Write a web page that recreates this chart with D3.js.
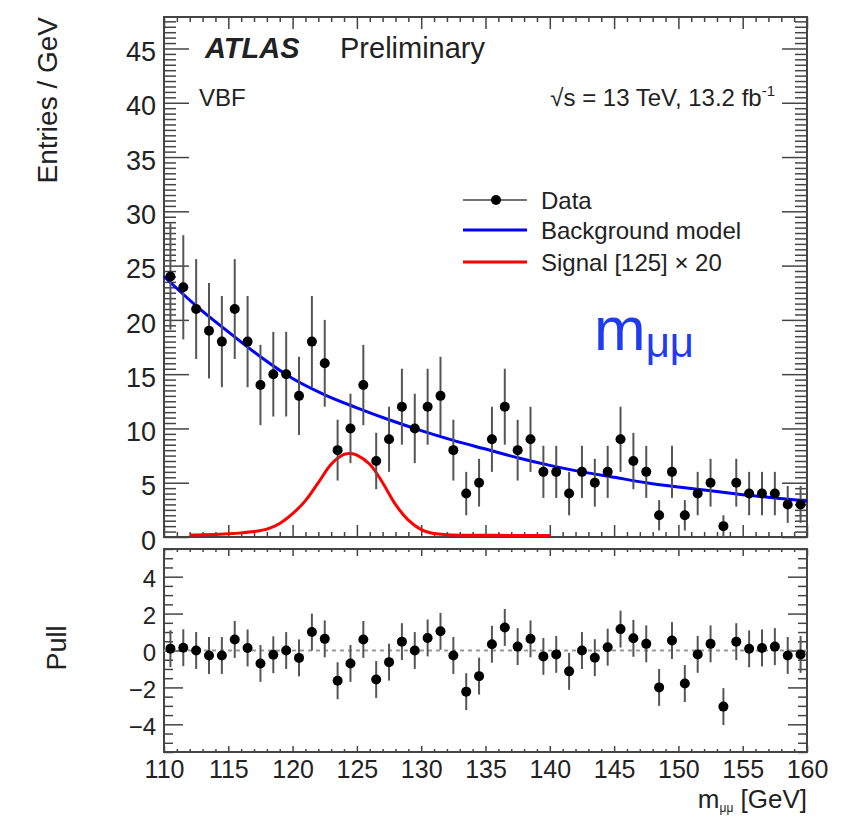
<!DOCTYPE html>
<html>
<head>
<meta charset="utf-8">
<script src="https://cdn.jsdelivr.net/npm/d3@7"></script>
<style>
body { margin: 0; background: #fff; }
text { font-family: "Liberation Sans", Arial, sans-serif; fill: #222; }
</style>
</head>
<body>
<div id="chart"></div>
<script>
// bin centres (1 GeV bins) and observed entries
const binCenters = [110.5, 111.5, 112.5, 113.5, 114.5, 115.5, 116.5, 117.5, 118.5, 119.5,
  120.5, 121.5, 122.5, 123.5, 124.5, 125.5, 126.5, 127.5, 128.5, 129.5,
  130.5, 131.5, 132.5, 133.5, 134.5, 135.5, 136.5, 137.5, 138.5, 139.5,
  140.5, 141.5, 142.5, 143.5, 144.5, 145.5, 146.5, 147.5, 148.5, 149.5,
  150.5, 151.5, 152.5, 153.5, 154.5, 155.5, 156.5, 157.5, 158.5, 159.5];
const counts = [24, 23, 21, 19, 18, 21, 18, 14, 15, 15,
  13, 18, 16, 8, 10, 14, 7, 9, 12, 10,
  12, 13, 8, 4, 5, 9, 12, 8, 9, 6,
  6, 4, 6, 5, 6, 9, 7, 6, 2, 6,
  2, 4, 5, 1, 5, 4, 4, 4, 3, 3];
const countErrors = [4.9, 4.8, 4.6, 4.4, 4.2, 4.6, 4.2, 3.7, 3.9, 3.9,
  3.6, 4.2, 4.0, 2.8, 3.2, 3.7, 2.6, 3.0, 3.5, 3.2,
  3.5, 3.6, 2.8, 2.0, 2.2, 3.0, 3.5, 2.8, 3.0, 2.4,
  2.4, 2.0, 2.4, 2.2, 2.4, 3.0, 2.6, 2.4, 1.4, 2.4,
  1.4, 2.0, 2.2, 1.0, 2.2, 2.0, 2.0, 2.0, 1.7, 1.7];
const pulls = [0.1, 0.15, 0.0, -0.27, -0.27, 0.6, 0.14, -0.7, -0.23, 0.0,
  -0.4, 1.0, 0.63, -1.64, -0.7, 0.6, -1.57, -0.63, 0.48, 0.0,
  0.68, 1.04, -0.27, -2.23, -1.39, 0.34, 1.25, 0.21, 0.63, -0.32,
  -0.21, -1.13, 0.0, -0.39, 0.18, 1.16, 0.66, 0.36, -2.0, 0.54,
  -1.79, -0.21, 0.36, -3.04, 0.48, 0.09, 0.14, 0.21, -0.27, -0.21];
const pullError = 1;

// background model and signal x20 curves
const bkgMass = [110, 112.5, 115, 117.5, 120, 122.5, 125, 127.5, 130, 132.5, 135,
  137.5, 140, 142.5, 145, 147.5, 150, 152.5, 155, 157.5, 160];
const bkgValues = [24.0, 21.3, 18.9, 16.6, 14.6, 13.1, 11.9, 10.8, 9.8, 8.9, 8.1,
  7.3, 6.6, 6.0, 5.5, 5.0, 4.6, 4.25, 3.9, 3.6, 3.3];
const sigMass = [112, 113, 114, 115, 116, 117, 118, 119, 120, 121, 122, 123, 124, 124.5,
  125, 126, 127, 128, 129, 130, 131, 132, 133, 134, 136, 138, 140];
const sigValues = [0.18, 0.2, 0.24, 0.3, 0.38, 0.5, 0.72, 1.25, 2.15, 3.35, 5.0, 6.7, 7.6, 7.7,
  7.55, 6.7, 5.0, 3.0, 1.55, 0.68, 0.32, 0.21, 0.17, 0.16, 0.15, 0.14, 0.13];

const xTicks = [110, 115, 120, 125, 130, 135, 140, 145, 150, 155, 160];
const yTicks = [0, 5, 10, 15, 20, 25, 30, 35, 40, 45];
const pullTicks = [-4, -2, 0, 2, 4];

const W = 843, H = 818;
const frame = {left: 164, right: 807, top: 17, mainBottom: 537, pullTop: 549, bottom: 752};
const ink = "#444";

const svg = d3.select("#chart").append("svg").attr("width", W).attr("height", H);
svg.append("rect").attr("width", W).attr("height", H).attr("fill", "white");

const x = d3.scaleLinear().domain([110, 160]).range([frame.left, frame.right]);
const y = d3.scaleLinear().domain([0, 47.9]).range([frame.mainBottom, frame.top]);
const yPull = d3.scaleLinear().domain([-5.5, 5.5]).range([frame.bottom, frame.pullTop]);

const xMinor = d3.range(110, 160.5, 1).filter(v => v % 5 !== 0);
const yMinor = d3.range(0, 47.9, 0.5).filter(v => v % 5 !== 0);
const pullMinor = d3.range(-5.5, 5.6, 0.5).filter(v => v % 2 !== 0);

// inward ROOT-style ticks
function tickSet(axis, scale, values, size, tx, ty, fmt, fs) {
  const g = svg.append("g").attr("transform", `translate(${tx},${ty})`)
    .call(axis(scale).tickValues(values).tickSizeInner(-size).tickSizeOuter(0)
      .tickPadding(8).tickFormat(fmt || ""));
  g.select(".domain").remove();
  g.selectAll("line").attr("stroke", ink).attr("stroke-width", 1.5);
  g.selectAll("text").attr("font-size", fs || 24).attr("fill", "#222")
    .attr("font-family", "Liberation Sans, Arial, sans-serif");
  return g;
}

// main panel
tickSet(d3.axisLeft, y, yTicks, 25, frame.left, 0, d3.format("d"), 27)
  .selectAll("text").attr("dy", "0.45em");
tickSet(d3.axisLeft, y, yMinor, 12, frame.left, 0);
tickSet(d3.axisRight, y, yTicks, 25, frame.right, 0);
tickSet(d3.axisRight, y, yMinor, 12, frame.right, 0);
tickSet(d3.axisTop, x, xTicks, 12, 0, frame.top);
tickSet(d3.axisTop, x, xMinor, 5, 0, frame.top);
tickSet(d3.axisBottom, x, xTicks, 12, 0, frame.mainBottom);
tickSet(d3.axisBottom, x, xMinor, 5, 0, frame.mainBottom);

// pull panel
tickSet(d3.axisLeft, yPull, pullTicks, 19, frame.left, 0, d3.format("d"), 24)
  .selectAll("text").attr("dy", "0.42em");
tickSet(d3.axisLeft, yPull, pullMinor, 9, frame.left, 0);
tickSet(d3.axisRight, yPull, pullTicks, 19, frame.right, 0);
tickSet(d3.axisRight, yPull, pullMinor, 9, frame.right, 0);
tickSet(d3.axisTop, x, xTicks, 7, 0, frame.pullTop);
tickSet(d3.axisTop, x, xMinor, 3, 0, frame.pullTop);
tickSet(d3.axisBottom, x, xTicks, 6, 0, frame.bottom, d3.format("d"), 25);
tickSet(d3.axisBottom, x, xMinor, 3, 0, frame.bottom);

svg.append("rect").attr("x", frame.left).attr("y", frame.top)
  .attr("width", frame.right - frame.left).attr("height", frame.mainBottom - frame.top)
  .attr("fill", "none").attr("stroke", ink).attr("stroke-width", 2);
svg.append("rect").attr("x", frame.left).attr("y", frame.pullTop)
  .attr("width", frame.right - frame.left).attr("height", frame.bottom - frame.pullTop)
  .attr("fill", "none").attr("stroke", ink).attr("stroke-width", 2);

// curves
const bkgLine = d3.line().x((d, i) => x(bkgMass[i])).y(d => y(d)).curve(d3.curveMonotoneX);
const sigLine = d3.line().x((d, i) => x(sigMass[i])).y(d => y(d)).curve(d3.curveCatmullRom.alpha(0.5));
svg.append("path").datum(sigValues).attr("d", sigLine)
  .attr("fill", "none").attr("stroke", "#ff0000").attr("stroke-width", 3);
svg.append("path").datum(bkgValues).attr("d", bkgLine)
  .attr("fill", "none").attr("stroke", "#0000ff").attr("stroke-width", 3);

// data points
const pts = svg.append("g");
pts.selectAll("line").data(binCenters).join("line")
  .attr("x1", d => x(d)).attr("x2", d => x(d))
  .attr("y1", (d, i) => y(Math.max(0, counts[i] - countErrors[i])))
  .attr("y2", (d, i) => y(counts[i] + countErrors[i]))
  .attr("stroke", "#555").attr("stroke-width", 2);
pts.selectAll("circle").data(binCenters).join("circle")
  .attr("cx", d => x(d)).attr("cy", (d, i) => y(counts[i])).attr("r", 5).attr("fill", "#000");

// pull panel
svg.append("line").attr("x1", frame.left).attr("x2", frame.right)
  .attr("y1", yPull(0)).attr("y2", yPull(0))
  .attr("stroke", "#999").attr("stroke-width", 2).attr("stroke-dasharray", "4,4");
const pp = svg.append("g");
pp.selectAll("line").data(binCenters).join("line")
  .attr("x1", d => x(d)).attr("x2", d => x(d))
  .attr("y1", (d, i) => yPull(pulls[i] - pullError))
  .attr("y2", (d, i) => yPull(pulls[i] + pullError))
  .attr("stroke", "#555").attr("stroke-width", 2);
pp.selectAll("circle").data(binCenters).join("circle")
  .attr("cx", d => x(d)).attr("cy", (d, i) => yPull(pulls[i])).attr("r", 5).attr("fill", "#000");

// labels
svg.append("text").attr("x", 205).attr("y", 58).attr("font-size", 29)
  .attr("font-weight", "bold").attr("font-style", "italic").text("ATLAS");
svg.append("text").attr("x", 340).attr("y", 58).attr("font-size", 29).text("Preliminary");
svg.append("text").attr("x", 199).attr("y", 106).attr("font-size", 24).text("VBF");
const lumi = svg.append("text").attr("x", 775).attr("y", 106).attr("font-size", 24)
  .attr("text-anchor", "end");
lumi.append("tspan").text("√s = 13 TeV, 13.2 fb");
lumi.append("tspan").attr("font-size", 15).attr("dy", -10).text("-1");

// legend
const legend = svg.append("g");
legend.append("line").attr("x1", 463).attr("x2", 527).attr("y1", 200).attr("y2", 200)
  .attr("stroke", "#444").attr("stroke-width", 1.5);
legend.append("circle").attr("cx", 496).attr("cy", 200).attr("r", 5).attr("fill", "#000");
legend.append("line").attr("x1", 463).attr("x2", 527).attr("y1", 230).attr("y2", 230)
  .attr("stroke", "#0000ff").attr("stroke-width", 3);
legend.append("line").attr("x1", 463).attr("x2", 527).attr("y1", 262).attr("y2", 262)
  .attr("stroke", "#ff0000").attr("stroke-width", 3);
[["Data", 200], ["Background model", 230], ["Signal [125] × 20", 262]].forEach(([t, ly]) => {
  legend.append("text").attr("x", 541).attr("y", ly + 8.5).attr("font-size", 24).text(t);
});

// blue annotation
const ann = svg.append("text").attr("x", 594).attr("y", 350).attr("fill", "#1f3cf0")
  .style("fill", "#1f3cf0").attr("font-size", 62);
ann.append("tspan").text("m");
ann.append("tspan").attr("font-size", 42).attr("dy", 7).text("μμ");

// axis titles
svg.append("text").attr("transform", "translate(57,17) rotate(-90)")
  .attr("text-anchor", "end").attr("font-size", 28).text("Entries / GeV");
svg.append("text").attr("transform", "translate(66,648) rotate(-90)")
  .attr("text-anchor", "middle").attr("font-size", 27).text("Pull");
const xt = svg.append("text").attr("x", 807).attr("y", 808).attr("text-anchor", "end")
  .attr("font-size", 26);
xt.append("tspan").text("m");
xt.append("tspan").attr("font-size", 12).attr("dy", 4).text("μμ");
xt.append("tspan").attr("dy", -4).text(" [GeV]");
</script>
</body>
</html>
